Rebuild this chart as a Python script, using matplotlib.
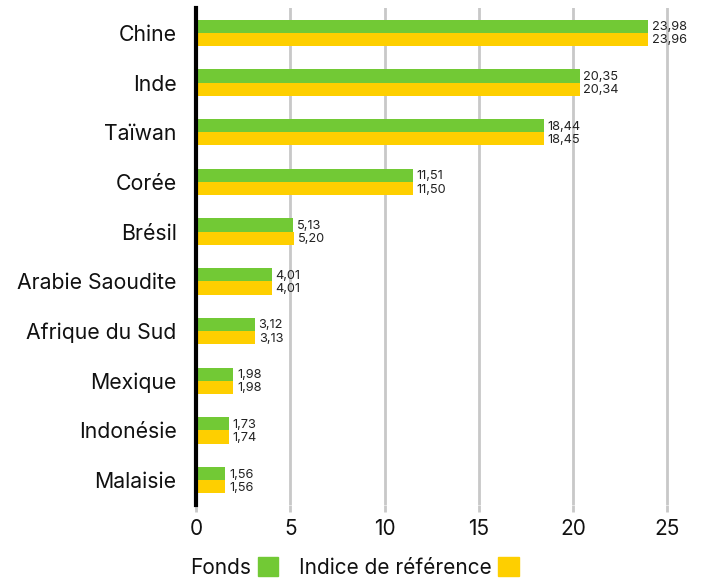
import matplotlib
matplotlib.use("Agg")
import matplotlib.pyplot as plt
from matplotlib.patches import Patch
import numpy as np

plt.rcParams['font.family'] = ['Inter', 'DejaVu Sans']

categories = ["Chine", "Inde", "Taïwan", "Corée", "Brésil", "Arabie Saoudite",
              "Afrique du Sud", "Mexique", "Indonésie", "Malaisie"]
fonds = [23.98, 20.35, 18.44, 11.51, 5.13, 4.01, 3.12, 1.98, 1.73, 1.56]
indice = [23.96, 20.34, 18.45, 11.50, 5.20, 4.01, 3.13, 1.98, 1.74, 1.56]
series_names = ["Fonds", "Indice de référence"]
xticks = [0, 5, 10, 15, 20, 25]

green = "#72c935"
yellow = "#fecf00"

fig = plt.figure(figsize=(7.02, 5.81), dpi=100)
ax = fig.add_axes([196/702, 1-505/581, (690-196)/702, (505-8)/581])

y = np.arange(len(categories))
h = 0.265
ax.barh(y - h/2, fonds, height=h, color=green, zorder=3)
ax.barh(y + h/2, indice, height=h, color=yellow, zorder=3)

def fmt(v):
    return f"{v:.2f}".replace(".", ",")

for yi, v in zip(y, fonds):
    ax.text(v + 0.2, yi - h/2 + 0.02, fmt(v), va="center", ha="left", fontsize=9.2, color="#222222")
for yi, v in zip(y, indice):
    ax.text(v + 0.2, yi + h/2 + 0.02, fmt(v), va="center", ha="left", fontsize=9.2, color="#222222")

ax.set_xlim(0, 26.2)
ax.set_ylim(9.5, -0.5)
ax.set_yticks(y)
ax.set_yticklabels(categories, fontsize=15.3, color="#111111")
ax.set_xticks(xticks)
ax.set_xticklabels([str(t) for t in xticks], fontsize=15, color="#111111")
ax.tick_params(axis="y", length=0, pad=14)
ax.tick_params(axis="x", length=5, width=2, color="#c8c8c8", pad=5)
ax.grid(axis="x", color="#c8c8c8", linewidth=2, zorder=0)
for s in ["top", "right", "bottom"]:
    ax.spines[s].set_visible(False)
ax.spines["left"].set_linewidth(3)
ax.spines["left"].set_color("black")
ax.spines["left"].set_zorder(5)

handles = [Patch(color=green), Patch(color=yellow)]
leg = fig.legend(handles, series_names, loc="lower left", bbox_to_anchor=(180/702, -0.012),
                 ncol=2, frameon=False, markerfirst=False, fontsize=15,
                 handlelength=1.0, handleheight=1.0, handletextpad=0.3, columnspacing=1.0,
                 borderaxespad=0.1)
for t in leg.get_texts():
    t.set_color("#111111")

fig.savefig("out.png", dpi=100)
